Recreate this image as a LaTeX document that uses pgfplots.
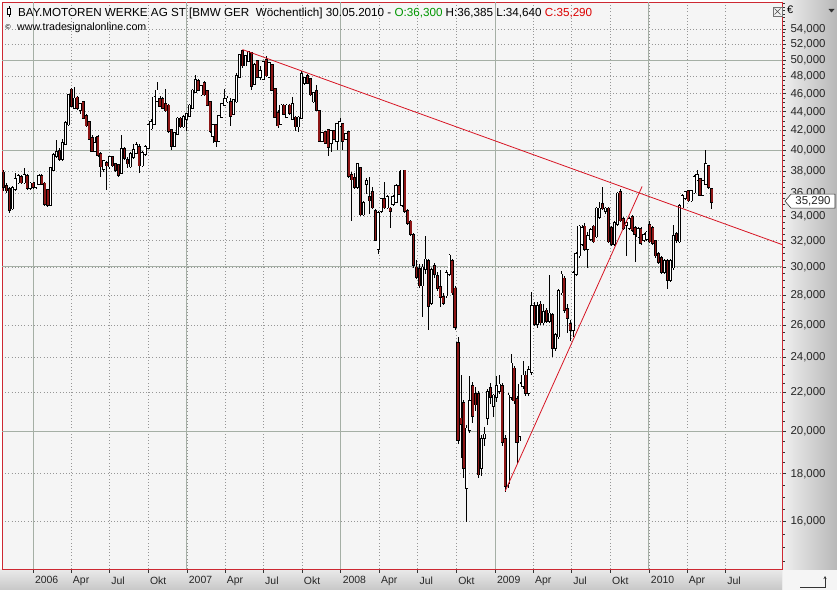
\documentclass[border=0pt]{standalone}
\usepackage{pgfplots}
\pgfplotsset{compat=1.18}
\usepackage{pgfplotstable}
\usetikzlibrary{arrows.meta}
\usepackage{fontspec}
\setmainfont{Liberation Sans}
\newfontfamily\symfont{DejaVu Sans}
\definecolor{downred}{RGB}{140,22,22}
\definecolor{framered}{RGB}{205,40,50}
\definecolor{plotbg}{RGB}{245,245,245}
\definecolor{gridc}{RGB}{165,175,165}
\definecolor{dotc}{RGB}{150,150,150}
\definecolor{trend}{RGB}{215,20,35}
\definecolor{hdrgreen}{RGB}{0,150,0}
\definecolor{hdrred}{RGB}{220,0,0}

\pgfplotstableread{
x o h l c
-10 37.8 38.1 36.2 36.6
-9 36.6 36.9 36.0 36.3
-8 36.3 36.5 34.3 34.6
-7 34.7 36.6 34.5 36.4
-6 36.4 37.8 36.2 37.2
-5 37.0 37.7 36.8 37.5
-4 37.4 37.6 36.8 37.0
-3 37.0 38.3 36.8 37.6
-2 37.5 37.7 36.3 36.5
-1 36.5 37.0 36.3 36.8
0 36.8 37.0 36.4 36.6
1 36.6 37.0 36.4 36.9
2 36.9 37.7 36.7 37.5
3 37.5 37.7 36.7 36.9
4 36.8 37.0 34.9 35.1
5 36.2 36.4 34.8 35.0
6 35.0 38.4 34.9 38.2
7 38.2 39.7 38.0 39.5
8 39.5 41.0 39.3 39.8
9 39.9 40.2 39.0 39.2
10 39.2 41.1 39.0 40.7
11 40.7 43.0 40.5 42.7
12 42.7 46.0 42.5 45.8
13 46.4 46.6 44.5 44.7
14 44.5 46.8 44.3 45.4
15 45.5 45.8 44.2 44.5
16 44.3 45.0 43.8 44.8
17 45.0 45.2 43.2 43.4
18 43.5 43.8 42.4 42.6
19 42.8 43.0 41.0 41.2
20 41.2 41.5 39.8 40.0
21 40.0 41.3 39.8 40.7
22 41.3 41.5 39.4 39.6
23 39.6 39.8 37.5 38.5
24 38.3 39.1 37.9 38.9
25 38.7 39.0 36.3 38.6
26 38.5 39.5 38.2 39.3
27 39.3 39.5 38.4 38.6
28 38.6 38.8 37.9 38.2
29 38.5 38.7 37.5 37.7
30 37.9 41.5 37.7 40.1
31 40.1 40.3 39.1 39.3
32 39.0 39.4 38.3 38.8
33 38.5 39.8 38.3 39.6
34 39.4 40.6 39.2 40.0
35 39.8 40.8 39.6 40.5
36 40.3 40.6 37.8 38.6
37 38.6 39.9 38.4 39.7
38 39.7 40.5 39.5 40.3
39 40.3 42.7 40.1 42.5
40 42.3 43.2 42.1 42.8
41 42.8 45.7 42.6 45.5
42 45.3 47.3 45.1 46.3
43 45.3 45.8 44.5 44.7
44 45.3 45.6 44.3 44.5
45 44.8 46.5 44.0 44.2
46 44.6 44.8 41.8 42.0
47 42.0 42.2 40.0 40.5
48 40.5 41.9 40.3 41.7
49 41.7 43.4 41.5 43.2
50 43.2 43.4 42.3 42.5
51 42.5 43.7 42.3 43.4
52 43.3 43.9 42.0 43.7
53 43.6 44.8 43.4 44.6
54 44.5 46.5 44.3 46.3
55 46.3 48.2 46.1 47.5
56 47.4 47.7 46.3 46.5
57 46.0 47.0 45.8 46.8
58 47.2 47.5 45.8 46.0
59 46.2 46.4 44.6 44.8
60 45.0 45.2 41.8 42.0
61 41.5 42.7 40.7 42.5
62 42.5 42.7 40.3 41.0
63 41.0 43.7 40.8 43.5
64 43.5 45.0 43.3 44.8
65 44.8 46.5 44.6 45.3
66 45.2 45.7 45.0 45.4
67 45.0 45.5 42.5 43.6
68 43.8 45.4 43.6 45.2
69 45.2 48.4 45.0 48.0
70 48.0 50.7 47.8 50.5
71 51.0 51.3 49.0 49.4
72 49.4 50.6 49.2 50.4
73 50.0 51.1 49.8 50.9
74 50.8 51.0 46.4 47.0
75 47.2 49.6 47.0 49.3
76 49.8 50.0 47.8 48.0
77 48.0 49.2 47.6 48.6
78 47.8 49.9 47.6 49.7
79 49.9 50.5 48.0 48.2
80 48.0 49.7 47.8 49.5
81 49.3 49.5 46.3 46.5
82 46.5 46.7 43.3 43.5
83 43.8 44.2 42.3 42.6
84 42.8 44.8 42.6 44.6
85 44.6 44.8 43.6 43.8
86 43.5 44.8 43.3 44.6
87 44.6 44.8 43.7 43.9
88 43.3 45.6 43.1 44.8
89 43.3 43.5 42.0 42.5
90 42.5 43.5 41.9 43.3
91 43.4 48.7 43.2 48.2
92 47.3 48.0 47.0 47.7
93 48.0 48.3 47.1 47.3
94 47.6 47.8 45.8 46.0
95 45.2 46.2 45.0 46.0
96 46.2 47.0 44.1 44.3
97 44.0 44.2 40.8 41.0
98 41.0 41.9 40.8 41.7
99 41.8 42.0 40.6 40.8
100 42.0 42.2 39.5 40.4
101 40.8 42.1 39.8 41.9
102 41.9 42.1 41.0 41.2
103 41.0 42.8 40.0 42.6
104 42.6 43.3 42.4 42.8
105 42.6 42.8 40.0 41.0
106 41.2 41.8 41.0 41.6
107 41.8 42.0 37.4 37.6
108 37.6 37.9 33.6 37.3
109 37.3 37.8 36.4 36.6
110 36.6 38.8 36.4 38.6
111 38.2 38.4 34.0 34.2
112 34.2 35.3 34.0 35.1
113 36.9 37.4 35.9 37.0
114 35.6 37.5 34.2 35.4
115 36.0 36.5 34.6 34.8
116 34.4 34.6 32.0 32.1
117 31.4 34.4 31.0 34.2
118 34.5 35.6 34.3 35.4
119 35.4 37.0 34.6 34.8
120 34.8 35.8 34.6 35.6
121 34.6 34.8 33.0 34.5
122 35.1 35.8 34.9 35.6
123 35.3 36.8 35.1 36.6
124 36.6 38.0 35.8 36.0
125 35.0 38.1 34.8 38.0
126 38.0 38.1 34.3 34.5
127 34.4 34.6 33.3 33.5
128 33.5 33.7 32.4 32.6
129 32.4 32.6 29.9 30.2
130 29.9 30.5 29.1 29.3
131 29.8 30.2 28.5 28.7
132 28.7 30.2 26.5 29.9
133 29.9 32.4 29.5 30.5
134 30.4 30.6 25.7 27.3
135 27.5 29.9 27.3 29.7
136 30.0 30.3 29.2 29.5
137 29.3 29.6 28.3 28.5
138 28.5 29.8 27.2 27.9
139 27.8 28.1 27.3 27.5
140 28.0 29.8 27.8 29.5
141 29.5 31.0 29.3 30.8
142 30.4 30.6 28.0 28.2
143 28.4 28.6 25.7 25.9
144 24.8 25.2 19.4 19.6
145 20.6 23.0 18.7 20.4
146 21.4 21.6 17.8 18.3
147 17.4 20.3 16.0 20.1
148 20.1 22.9 19.9 21.5
149 22.3 22.6 20.4 20.8
150 21.9 22.3 21.0 21.4
151 21.9 22.1 17.8 18.0
152 18.3 19.8 17.9 19.6
153 19.7 20.2 19.3 19.8
154 20.7 22.2 20.3 22.0
155 22.2 22.5 21.4 21.8
156 21.3 21.9 20.7 21.8
157 21.8 22.9 21.5 22.3
158 22.1 23.0 21.9 22.4
159 22.3 22.5 19.3 19.5
160 19.6 19.8 17.2 17.5
161 17.6 22.0 17.4 21.8
162 21.8 24.2 21.6 23.6
163 23.3 23.5 21.4 21.6
164 21.6 21.8 18.5 19.5
165 19.8 22.6 19.5 22.4
166 22.4 23.8 22.2 22.9
167 22.9 23.2 21.8 22.0
168 22.0 23.5 21.8 23.2
169 23.2 28.2 23.0 27.2
170 27.2 27.5 25.9 26.1
171 26.1 27.5 25.8 27.2
172 27.3 27.6 26.0 26.2
173 26.2 27.4 26.0 26.8
174 26.9 27.1 26.1 26.3
175 26.3 29.4 26.1 26.7
176 26.6 26.8 24.0 24.6
177 24.6 25.5 24.4 25.3
178 25.3 28.4 25.1 28.2
179 28.2 29.7 28.0 29.4
180 29.1 29.3 26.8 27.0
181 27.0 27.4 25.5 26.5
182 26.0 26.3 25.0 25.7
183 25.7 29.7 25.2 29.5
184 29.5 31.1 29.3 30.9
185 30.9 33.3 30.7 33.1
186 31.8 33.3 31.6 33.0
187 33.1 33.4 31.2 31.4
188 31.4 32.7 29.9 32.3
189 32.2 33.0 32.0 32.8
190 33.1 33.3 31.8 32.0
191 32.4 34.8 32.2 34.6
192 34.0 35.2 33.8 34.6
193 35.0 36.5 34.5 34.7
194 34.5 34.8 34.2 34.6
195 34.6 34.8 31.8 32.0
196 33.0 33.2 31.6 31.8
197 31.8 33.6 31.6 33.4
198 33.4 36.1 33.2 35.9
199 36.0 36.4 33.5 33.7
200 33.7 33.9 32.9 33.1
201 33.3 33.6 30.8 33.4
202 33.1 33.9 32.9 33.7
203 33.9 34.1 32.7 32.9
204 33.0 33.2 30.4 32.6
205 32.4 33.1 32.2 32.9
206 32.9 33.1 31.7 31.9
207 32.1 32.6 31.9 32.4
208 32.2 32.8 32.0 32.6
209 33.2 33.6 31.8 32.0
210 33.0 33.2 31.7 31.9
211 31.9 32.1 30.7 30.9
212 30.9 31.1 30.2 30.4
213 30.6 30.8 29.5 29.7
214 29.7 30.6 29.5 30.4
215 30.4 30.6 28.4 29.1
216 29.1 30.6 28.9 30.4
217 30.0 33.3 29.8 32.3
218 32.5 32.7 31.8 32.1
219 32.0 35.0 31.8 34.8
220 34.8 35.9 34.6 35.7
221 35.6 36.2 35.4 36.0
222 36.1 36.3 35.2 35.4
223 35.4 36.3 35.2 36.1
224 36.1 37.6 35.9 37.4
225 37.3 38.1 37.1 37.6
226 37.2 37.4 35.7 35.9
227 35.9 37.2 35.7 37.0
228 36.9 40.0 36.7 38.6
229 38.4 38.6 36.4 36.6
230 36.3 36.385 34.64 35.29
}\candles

\begin{document}
\begin{tikzpicture}
\useasboundingbox (-2bp,-21bp) rectangle (835bp,569bp);
% side panels
\shade[left color=black!6, right color=black!28] (780bp,-21bp) rectangle (835bp,569bp);
\shade[top color=black!8, bottom color=black!22] (-2bp,-21bp) rectangle (780bp,0bp);
\fill[black!4] (781bp,-21bp) rectangle (835bp,-1bp);
\begin{axis}[
  at={(0bp,0bp)}, anchor=south west,
  scale only axis, width=780bp, height=567bp,
  xmin=-10.5, xmax=253.8,
  ymode=log, ymin=14.23, ymax=57.7,
  axis background/.style={fill=plotbg},
  axis line style={draw=framered, line width=0.8bp},
  xtick={0,12.86,25.86,39.0,52.14,65.0,78.0,91.14,104.29,117.29,130.29,143.43,156.57,169.43,182.43,195.57,208.71,221.57,234.57},
  xticklabels={2006,Apr,Jul,Okt,2007,Apr,Jul,Okt,2008,Apr,Jul,Okt,2009,Apr,Jul,Okt,2010,Apr,Jul},
  ytick={16,18,20,22,24,26,28,30,32,34,36,38,40,42,44,46,48,50,52,54},
  yticklabels={{16,000},{18,000},{20,000},{22,000},{24,000},{26,000},{28,000},{30,000},{32,000},{34,000},{36,000},{38,000},{40,000},{42,000},{44,000},{46,000},{48,000},{50,000},{52,000},{54,000}},
  minor ytick={14.5,15,...,57.5},
  xtick pos=bottom, ytick pos=right,
  tick align=outside,
  major tick length=4bp, minor tick length=2.5bp,
  tick style={black!80, line width=0.6bp},
  xticklabel style={anchor=north west, xshift=-1.5bp, font=\fontsize{10.5}{12}\selectfont, text=black!85},
  yticklabel style={anchor=west, xshift=1bp, font=\fontsize{11.5}{13}\selectfont, text=black!85},
  grid=major,
  major grid style={dotc, dash pattern=on 0.8bp off 2.4bp, line width=0.6bp},
  extra x ticks={0,52.14,104.29,156.57,208.71},
  extra x tick labels={},
  extra x tick style={grid=major, major grid style={solid, gridc, line width=0.9bp}, major tick length=0pt},
  extra y ticks={20,30,40,50},
  extra y tick labels={},
  extra y tick style={grid=major, major grid style={solid, gridc, line width=0.9bp}, major tick length=0pt},
  clip=true,
]
% wicks
\addplot[draw=none, mark=none, error bars/.cd, y dir=both, y explicit, error mark=none,
  error bar style={draw=black, line width=0.75bp}]
  table[x=x, y=o, y error plus expr=\thisrow{h}-\thisrow{o}, y error minus expr=\thisrow{o}-\thisrow{l}] {\candles};
% body outline
\addplot[draw=none, mark=none, error bars/.cd, y dir=both, y explicit, error mark=none,
  error bar style={draw=black, line width=3.1bp, line cap=rect}]
  table[x=x, y=o, y error plus expr={max(\thisrow{c}-\thisrow{o},0)}, y error minus expr={max(\thisrow{o}-\thisrow{c},0)}] {\candles};
% up bodies
\addplot[draw=none, mark=none, restrict expr to domain={\thisrow{c}-\thisrow{o}}{0:100},
  error bars/.cd, y dir=both, y explicit, error mark=none,
  error bar style={draw=white, line width=1.6bp, line cap=rect}]
  table[x=x, y=o, y error plus expr={max(\thisrow{c}-\thisrow{o},0)}, y error minus expr={max(\thisrow{o}-\thisrow{c},0)}] {\candles};
% down bodies
\addplot[draw=none, mark=none, restrict expr to domain={\thisrow{c}-\thisrow{o}}{-100:-0.0001},
  error bars/.cd, y dir=both, y explicit, error mark=none,
  error bar style={draw=downred, line width=1.6bp, line cap=rect}]
  table[x=x, y=o, y error plus expr={max(\thisrow{c}-\thisrow{o},0)}, y error minus expr={max(\thisrow{o}-\thisrow{c},0)}] {\candles};
% trend lines
\addplot[trend, line width=0.8bp, no marks] coordinates {(71,51.3) (253.8,31.7)};
\addplot[trend, line width=0.8bp, no marks] coordinates {(160,17.25) (206.4,36.6)};
\coordinate (tag) at (axis cs:253.8,35.29);
\end{axis}
% header
\draw[black, line width=0.6bp] (7bp,552bp) -- (7bp,563bp);
\draw[black, fill=white, line width=0.6bp] (5.3bp,554.5bp) rectangle (8.7bp,560.5bp);
\node[anchor=base west, inner sep=0pt, font=\fontsize{11.7}{13}\selectfont] at (16bp,552.5bp)
 {BAY.MOTOREN WERKE AG ST [BMW GER\ \ Wöchentlich] 30.05.2010 - \textcolor{hdrgreen}{O:36,300} H:36,385 L:34,640 \textcolor{hdrred}{C:35,290}};
\node[anchor=base west, inner sep=0pt, font=\fontsize{7}{8}\selectfont] at (2.5bp,539bp) {\symfont ©};
\node[anchor=base west, inner sep=0pt, font=\fontsize{10.7}{12}\selectfont] at (15bp,538bp) {www.tradesignalonline.com};
% top right controls
\draw[black!55, fill=black!5, line width=0.5bp] (771bp,553bp) rectangle (780bp,562bp);
\draw[black!70, line width=0.6bp] (772.5bp,554.5bp) -- (778.5bp,560.5bp) (772.5bp,560.5bp) -- (778.5bp,554.5bp);
\node[anchor=base west, inner sep=0pt, font=\fontsize{11}{12}\selectfont] at (785bp,555bp) {€};
\fill[black!80] (826.5bp,560bp) -- (832.5bp,560bp) -- (829.5bp,556.5bp) -- cycle;
% bottom right icon
\draw[black!80, line width=0.6bp, -{Stealth[length=3bp,width=3bp]}] (798bp,-18.5bp) -- (823bp,-18.5bp) -- (823bp,-7bp);
% price tag
\draw[black!80, fill=white, line width=0.6bp] ([xshift=3bp]tag) -- ++(6bp,7bp) -- ++(44bp,0) -- ++(0,-14bp) -- ++(-44bp,0) -- cycle;
\node[anchor=center, inner sep=0pt, font=\fontsize{11.5}{13}\selectfont, text=black!85] at ([xshift=31bp]tag) {35,290};
\end{tikzpicture}
\end{document}
